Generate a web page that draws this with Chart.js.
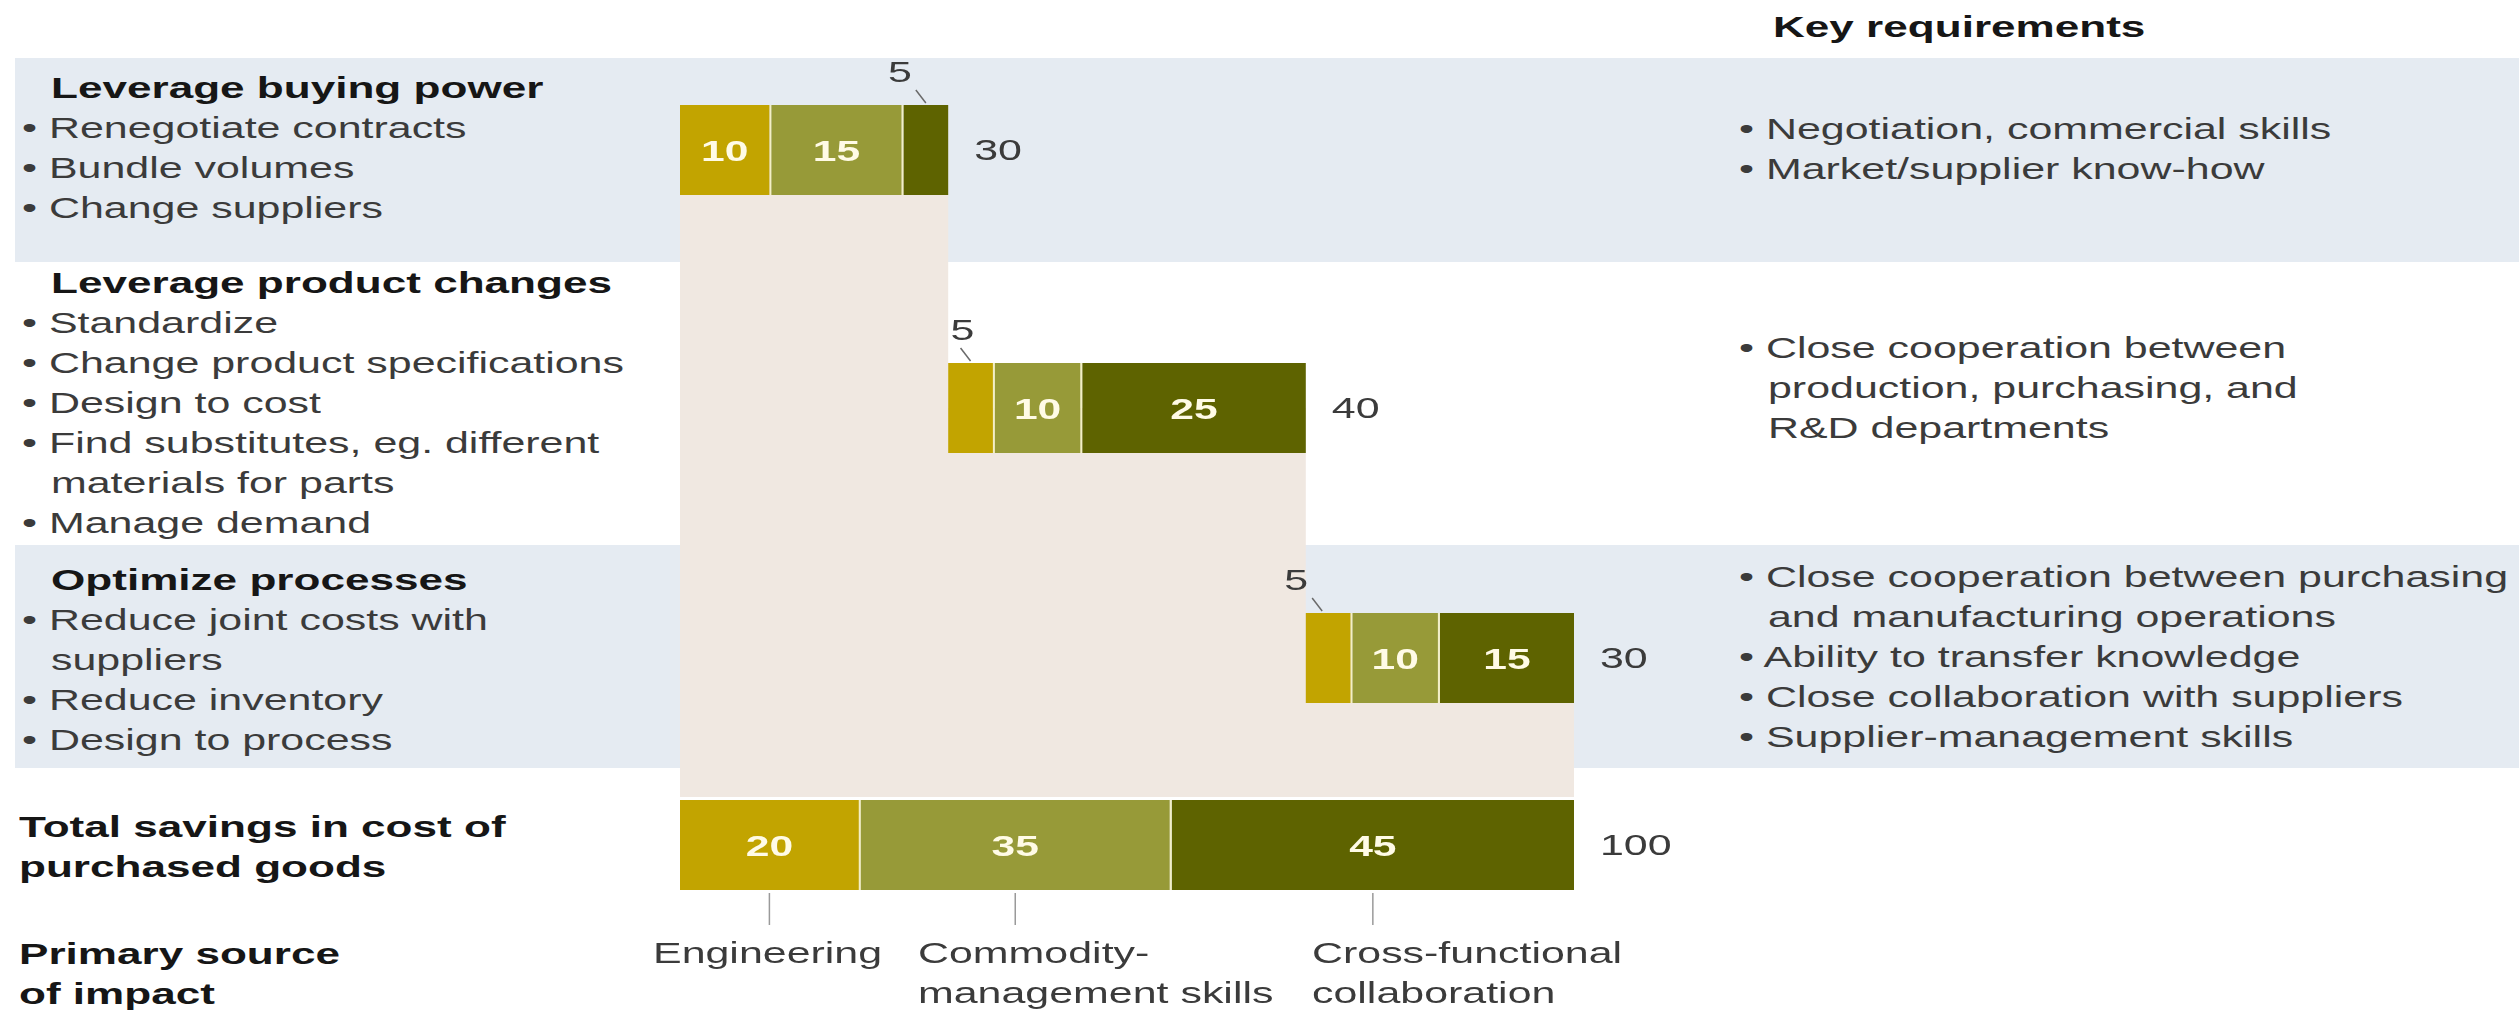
<!DOCTYPE html>
<html>
<head>
<meta charset="utf-8">
<title>Sources of savings in purchased goods</title>
<script src="https://cdn.jsdelivr.net/npm/chart.js@4.4.1/dist/chart.umd.min.js"></script>
<style>
  html, body { margin: 0; padding: 0; background: #fff; }
  body { width: 2519px; height: 1011px; position: relative; overflow: hidden;
         font-family: "Liberation Sans", Arial, sans-serif; }
  .band { position: absolute; left: 15px; right: 0; background: #e5ebf2; }
  .box { position: absolute; left: 640px; width: 1060px; }
  .ln { position: absolute; white-space: nowrap; font-size: 29px; line-height: 40px;
        color: #3b3b3b; transform: scaleX(1.48); transform-origin: 0 0; }
  .ln.b { font-weight: bold; color: #161616; transform: scaleX(1.52); }
</style>
</head>
<body>
<div class="band" style="top:58px;height:204px"></div>
<div class="band" style="top:545px;height:223px"></div>

<div class="box" style="top:58px;height:204px"><canvas id="row0"></canvas></div>
<div class="box" style="top:262px;height:283px"><canvas id="row1"></canvas></div>
<div class="box" style="top:545px;height:223px"><canvas id="row2"></canvas></div>
<div class="box" style="top:768px;height:243px"><canvas id="row3"></canvas></div>

<div id="texts"></div>

<script>
// datos del grafico
var rowNames = ["Leverage buying power", "Leverage product changes", "Optimize processes", "Total savings in cost of purchased goods"];
var sources = ["Engineering", "Commodity-management skills", "Cross-functional collaboration"];
var engineering = [10, 5, 5, 20];
var commodity = [15, 10, 10, 35];
var crossFunctional = [5, 25, 15, 45];
var totals = [30, 40, 30, 100];

var leverActions = [
    ["Renegotiate contracts", "Bundle volumes", "Change suppliers"],
    ["Standardize", "Change product specifications", "Design to cost", "Find substitutes, eg. different|materials for parts", "Manage demand"],
    ["Reduce joint costs with|suppliers", "Reduce inventory", "Design to process"]
];
var requirements = [
    ["Negotiation, commercial skills", "Market/supplier know-how"],
    ["Close cooperation between|production, purchasing, and|R&D departments"],
    ["Close cooperation between purchasing|and manufacturing operations", "Ability to transfer knowledge", "Close collaboration with suppliers", "Supplier-management skills"]
];

// colores y estilo
var colors = ["#c2a400", "#979a38", "#5e6300"];
var sepColor = "#f3efc6";
var beige = "#f0e8e1";
var fontStack = '"Liberation Sans", Arial, sans-serif';

// textos HTML
var texts = document.getElementById("texts");
function line(str, x, baseline, bold) {
    var d = document.createElement("div");
    d.className = bold ? "ln b" : "ln";
    d.textContent = str;
    d.style.left = x + "px";
    d.style.top = (baseline - 30) + "px";
    texts.appendChild(d);
}
function bullets(list, x, first) {
    var y = first;
    list.forEach(function (item) {
        item.split("|").forEach(function (part, j) {
            if (j === 0) line("\u2022 " + part, x, y, false);
            else line(part, x + 29, y, false);
            y += 40;
        });
    });
}

line("Key requirements", 1773, 37, true);
var leftFirst = [98, 293, 590];
var rightFirst = [139, 358, 587];
for (var r = 0; r < 3; r++) {
    line(rowNames[r], 51, leftFirst[r], true);
    bullets(leverActions[r], 22, leftFirst[r] + 40);
    bullets(requirements[r], 1739, rightFirst[r]);
}
line("Total savings in cost of", 19, 837, true);
line("purchased goods", 19, 877, true);
line("Primary source", 19, 964, true);
line("of impact", 19, 1004, true);
line("Engineering", 653, 963, false);
line("Commodity-", 918, 963, false);
line("management skills", 918, 1003, false);
line("Cross-functional", 1312, 963, false);
line("collaboration", 1312, 1003, false);

function drawText(ctx, s, x, y, align, font, color, sx) {
    ctx.save();
    ctx.translate(x, y);
    ctx.scale(sx, 1);
    ctx.font = font;
    ctx.fillStyle = color;
    ctx.textAlign = align;
    ctx.textBaseline = "alphabetic";
    ctx.fillText(s, 0, 0);
    ctx.restore();
}

var decor = {
    id: "decor",
    beforeDatasetsDraw: function (chart, args, opts) {
        var ctx = chart.ctx, x = chart.scales.x, h = chart.height;
        var bar = chart.getDatasetMeta(0).data[0];
        var top = bar.y - bar.height / 2;
        var x0 = x.getPixelForValue(0);
        ctx.save();
        ctx.fillStyle = beige;
        if (opts.total) {
            ctx.fillRect(x0, 0, x.getPixelForValue(opts.end) - x0, top - 3);
        } else {
            if (opts.start > 0) ctx.fillRect(x0, 0, x.getPixelForValue(opts.start) - x0, h);
            ctx.fillRect(x0, bar.y, x.getPixelForValue(opts.end) - x0, h - bar.y);
        }
        ctx.restore();
    },
    afterDatasetsDraw: function (chart, args, opts) {
        var ctx = chart.ctx;
        var right = 0;
        chart.data.datasets.forEach(function (ds, k) {
            var el = chart.getDatasetMeta(k).data[0];
            var v = ds.data[0][1] - ds.data[0][0];
            var l = Math.min(el.base, el.x), rr = Math.max(el.base, el.x);
            var cx = (l + rr) / 2, top = el.y - el.height / 2, bottom = el.y + el.height / 2;
            right = Math.max(right, rr);
            if (v >= 10) {
                drawText(ctx, String(v), cx, el.y + 11, "center", "bold 30px " + fontStack, "#fffbe6", 1.42);
            } else {
                drawText(ctx, String(v), cx + opts.labelDx, top - 23, "center", "29px " + fontStack, "#3b3b3b", 1.48);
                ctx.save();
                ctx.strokeStyle = "#6a6a6a";
                ctx.lineWidth = 1.5;
                ctx.beginPath();
                ctx.moveTo(cx + opts.lineDx - 10, top - 15);
                ctx.lineTo(cx + opts.lineDx, top - 2);
                ctx.stroke();
                ctx.restore();
            }
            if (opts.total) {
                ctx.save();
                ctx.strokeStyle = "#9a9a9a";
                ctx.lineWidth = 1.5;
                ctx.beginPath();
                ctx.moveTo(cx, bottom + 3);
                ctx.lineTo(cx, bottom + 35);
                ctx.stroke();
                ctx.restore();
            }
        });
        var first = chart.getDatasetMeta(0).data[0];
        drawText(ctx, String(opts.sum), right + 26, first.y + 10, "left", "29px " + fontStack, "#3b3b3b", 1.48);
    }
};

var pads = [{ top: 0, bottom: 20 }, { top: 9, bottom: 0 }, { top: 3, bottom: 0 }, { top: 0, bottom: 89 }];
var smallLabel = [{ labelDx: -26, lineDx: 0 }, { labelDx: -8, lineDx: 0 }, { labelDx: -32, lineDx: -6 }, { labelDx: 0, lineDx: 0 }];

for (var i = 0; i < 4; i++) {
    var isTotal = i === 3;
    var start = isTotal ? 0 : totals.slice(0, i).reduce(function (a, b) { return a + b; }, 0);
    var vals = [engineering[i], commodity[i], crossFunctional[i]];
    var acc = start;
    var datasets = vals.map(function (v, k) {
        var d = [acc, acc + v];
        acc += v;
        return {
            label: sources[k],
            data: [d],
            backgroundColor: colors[k],
            borderColor: sepColor,
            borderWidth: k === 1 ? { left: 2, right: 2, top: 0, bottom: 0 } : 0,
            borderSkipped: false,
            grouped: false,
            barThickness: 90,
            inflateAmount: 0
        };
    });
    new Chart(document.getElementById("row" + i), {
        type: "bar",
        data: { labels: [rowNames[i]], datasets: datasets },
        options: {
            indexAxis: "y",
            responsive: true,
            maintainAspectRatio: false,
            animation: false,
            events: [],
            layout: { padding: { left: 40, right: 126, top: pads[i].top, bottom: pads[i].bottom } },
            scales: {
                x: { type: "linear", min: 0, max: 100, display: false },
                y: { type: "category", display: false }
            },
            plugins: {
                legend: { display: false },
                tooltip: { enabled: false },
                decor: {
                    total: isTotal,
                    start: start,
                    end: start + totals[i],
                    sum: totals[i],
                    labelDx: smallLabel[i].labelDx,
                    lineDx: smallLabel[i].lineDx
                }
            }
        },
        plugins: [decor]
    });
}
</script>
</body>
</html>
